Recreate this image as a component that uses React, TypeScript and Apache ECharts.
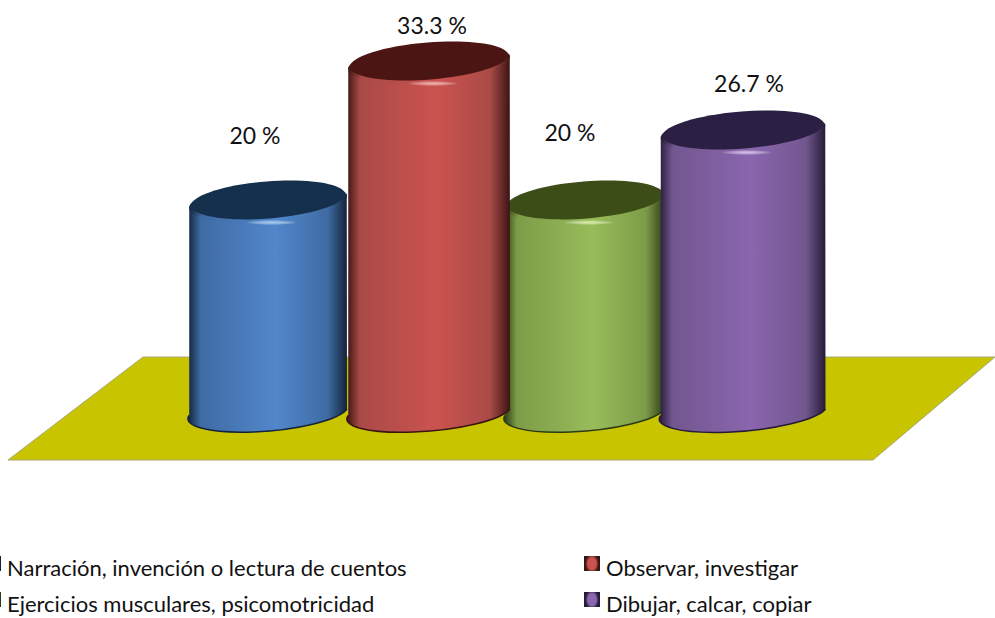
import React, { useEffect, useRef } from "react";
import * as echarts from "echarts";

const categories = [
  "Narración, invención o lectura de cuentos",
  "Observar, investigar",
  "Ejercicios musculares, psicomotricidad",
  "Dibujar, calcar, copiar",
];
const values = [20, 33.3, 20, 26.7];
const valueLabels = ["20 %", "33.3 %", "20 %", "26.7 %"];

// [edge, shoulder, middle, top face, rim highlight]
const palette = [
  ["#14233a", "#3f6ba3", "#5187cb", "#15304d", "#9cc4f0"],
  ["#3a1413", "#a94a47", "#cb534f", "#4a1513", "#f0a8a4"],
  ["#2c3a14", "#7d9c48", "#98bc5a", "#3d4d18", "#d8ee9c"],
  ["#251a38", "#72578f", "#8a66ae", "#2c1f44", "#d8b8f0"],
];
const zOrder = [2, 4, 2, 4];
const centerShift = [0, 3, 1, 1];
const halfWidth = [79, 81, 80, 82.5];
const labelShift = [[-13, -65], [6, -36], [-14, -68], [7, -47]];
const legendSpots = [
  { left: -15, top: 556 },
  { left: 584, top: 556 },
  { left: -15, top: 592 },
  { left: 584, top: 592 },
];
// Square in the upper part of a taller icon box, so the marker sits above the text's centre.
const legendIcon = "path://M0 0H16V15H0ZM0 23H16Z";

const TILT = -4.5;
const RY = 18.5;

const renderCylinder = (index: number) => (params: any, api: any) => {
  const top = api.coord([api.value(0), api.value(1)]);
  const base = api.coord([api.value(0), 0]);
  const cx = top[0] + centerShift[index];
  const rx = halfWidth[index];
  const [edge, shoulder, middle, face, glow] = palette[index];
  const a = (TILT * Math.PI) / 180;
  const dx = rx * Math.cos(a);
  const dy = rx * Math.sin(a);
  const body =
    `M${cx - dx} ${top[1] - dy}L${cx - dx} ${base[1] - dy}` +
    `A${rx} ${RY} ${TILT} 0 0 ${cx + dx} ${base[1] + dy}` +
    `L${cx + dx} ${top[1] + dy}Z`;
  const bottomLine = `M${cx - dx} ${base[1] - dy}A${rx} ${RY} ${TILT} 0 0 ${cx + dx} ${base[1] + dy}`;
  const grad = () =>
    new echarts.graphic.LinearGradient(0, 0, 1, 0, [
      { offset: 0, color: edge },
      { offset: 0.08, color: shoulder },
      { offset: 0.55, color: middle },
      { offset: 0.88, color: shoulder },
      { offset: 1, color: edge },
    ]);
  const spin = -a;
  const shift = labelShift[index];
  return {
    type: "group",
    children: [
      { type: "path", shape: { pathData: body, layout: "none" } as any, style: { fill: grad() } },
      { type: "path", shape: { pathData: bottomLine, layout: "none" } as any, style: { fill: "none", stroke: edge, lineWidth: 1.5 } },
      { type: "ellipse", x: cx, y: top[1] + 2, rotation: spin, shape: { cx: 0, cy: 0, rx, ry: RY + 1 }, style: { fill: grad() } },
      {
        type: "ellipse",
        x: cx + 4,
        y: top[1] + RY + 4,
        shape: { cx: 0, cy: 0, rx: 26, ry: 2.5 },
        style: {
          fill: new echarts.graphic.RadialGradient(0.5, 0.5, 0.5, [
            { offset: 0, color: glow },
            { offset: 1, color: "rgba(255,255,255,0)" },
          ]),
        },
      },
      { type: "ellipse", x: cx, y: top[1], rotation: spin, shape: { cx: 0, cy: 0, rx: rx - 2, ry: RY }, style: { fill: face } },
      {
        type: "text",
        x: top[0] + shift[0],
        y: top[1] + shift[1],
        style: {
          text: valueLabels[index],
          fill: "#111111",
          font: "23px Lato",
          align: "center",
          verticalAlign: "middle",
        },
      },
    ],
  };
};

export default function App() {
  const ref = useRef<HTMLDivElement>(null);
  useEffect(() => {
    const chart = echarts.init(ref.current!, undefined, { renderer: "svg" });
    chart.setOption({
      animation: false,
      backgroundColor: "#ffffff",
      textStyle: { fontFamily: "Lato" },
      grid: { left: 189, width: 632, top: -9, height: 418, outerBoundsMode: "none" },
      xAxis: { type: "category", data: categories, show: false },
      yAxis: { type: "value", min: 0, max: 40, show: false },
      legend: categories.map((name, i) => ({
        data: [name],
        left: legendSpots[i].left,
        top: legendSpots[i].top,
        padding: 0,
        itemWidth: 16,
        itemHeight: 23,
        icon: legendIcon,
        selectedMode: false,
        itemStyle: {
          borderWidth: 0,
          color: new echarts.graphic.RadialGradient(0.5, 0.33, 0.42, [
            { offset: 0, color: palette[i][2] },
            { offset: 0.6, color: palette[i][2] },
            { offset: 1, color: palette[i][0] },
          ]),
        },
        textStyle: { fontFamily: "Lato", fontSize: 22, color: "#111111", padding: [0, 0, 0, 1] },
      })),
      graphic: [
        {
          type: "polygon",
          z: -1,
          shape: { points: [[143, 357], [995, 357], [873, 460], [8, 460]] },
          style: { fill: "#c8c400", stroke: "#a8a878", lineWidth: 1 },
        },
      ],
      series: categories.map((name, i) => ({
        type: "custom",
        name,
        z: zOrder[i],
        itemStyle: { color: palette[i][2], borderColor: palette[i][0], borderWidth: 2 },
        encode: { x: 0, y: 1 },
        data: [[i, values[i]]],
        renderItem: renderCylinder(i),
      })),
    });
    return () => chart.dispose();
  }, []);
  return <div ref={ref} style={{ position: "absolute", left: 0, top: 0, width: 995, height: 618 }} />;
}
